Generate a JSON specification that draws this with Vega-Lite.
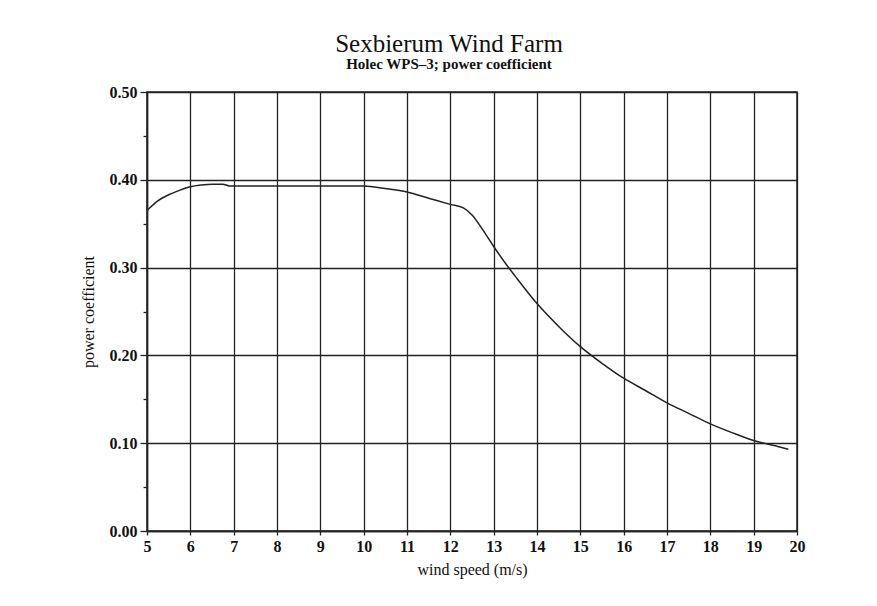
{
  "$schema": "https://vega.github.io/schema/vega-lite/v6.json",
  "width": 650,
  "height": 439,
  "autosize": {"type": "none"},
  "padding": {"left": 147, "top": 92, "right": 80, "bottom": 75},
  "background": "white",
  "title": {
    "text": "Sexbierum Wind Farm",
    "subtitle": "Holec WPS–3; power coefficient",
    "anchor": "middle",
    "frame": "group",
    "dx": -23,
    "offset": 12,
    "font": "Liberation Serif",
    "fontSize": 25,
    "fontWeight": "normal",
    "color": "#111",
    "subtitleFont": "Liberation Serif",
    "subtitleFontSize": 15,
    "subtitleFontWeight": "bold",
    "subtitleColor": "#111",
    "subtitlePadding": 0
  },
  "data": {
    "values": [
      {"speed": 5.0, "cp": 0.365},
      {"speed": 5.25, "cp": 0.376},
      {"speed": 5.5, "cp": 0.383},
      {"speed": 5.75, "cp": 0.388},
      {"speed": 6.0, "cp": 0.392},
      {"speed": 6.25, "cp": 0.394},
      {"speed": 6.5, "cp": 0.395},
      {"speed": 6.75, "cp": 0.395},
      {"speed": 6.9, "cp": 0.393},
      {"speed": 7.0, "cp": 0.393},
      {"speed": 8.0, "cp": 0.393},
      {"speed": 9.0, "cp": 0.393},
      {"speed": 10.0, "cp": 0.393},
      {"speed": 10.5, "cp": 0.390},
      {"speed": 11.0, "cp": 0.386},
      {"speed": 11.5, "cp": 0.379},
      {"speed": 12.0, "cp": 0.372},
      {"speed": 12.3, "cp": 0.368},
      {"speed": 12.5, "cp": 0.360},
      {"speed": 12.75, "cp": 0.343},
      {"speed": 13.0, "cp": 0.324},
      {"speed": 13.3, "cp": 0.303},
      {"speed": 13.5, "cp": 0.290},
      {"speed": 14.0, "cp": 0.259},
      {"speed": 14.5, "cp": 0.233},
      {"speed": 15.0, "cp": 0.210},
      {"speed": 15.5, "cp": 0.191},
      {"speed": 16.0, "cp": 0.174},
      {"speed": 16.5, "cp": 0.160},
      {"speed": 17.0, "cp": 0.146},
      {"speed": 17.5, "cp": 0.134},
      {"speed": 18.0, "cp": 0.122},
      {"speed": 18.5, "cp": 0.112},
      {"speed": 19.0, "cp": 0.103},
      {"speed": 19.5, "cp": 0.097},
      {"speed": 19.8, "cp": 0.093}
    ]
  },
  "mark": {"type": "line", "color": "#222", "strokeWidth": 1.5, "interpolate": "monotone"},
  "encoding": {
    "x": {
      "field": "speed",
      "type": "quantitative",
      "scale": {"domain": [5, 20], "nice": false, "zero": false},
      "axis": {
        "title": "wind speed (m/s)",
        "values": [5, 6, 7, 8, 9, 10, 11, 12, 13, 14, 15, 16, 17, 18, 19, 20],
        "format": "d",
        "labelFlush": false,
        "tickSize": 4,
        "labelPadding": 3,
        "titlePadding": 7
      }
    },
    "y": {
      "field": "cp",
      "type": "quantitative",
      "scale": {"domain": [0, 0.5], "nice": false},
      "axis": {
        "title": "power coefficient",
        "values": [0, 0.05, 0.1, 0.15, 0.2, 0.25, 0.3, 0.35, 0.4, 0.45, 0.5],
        "labelExpr": "round(datum.value * 100) % 10 == 0 ? format(datum.value, '.2f') : ''",
        "labelFlush": false,
        "tickSize": {"condition": {"test": "round(datum.value * 100) % 10 == 0", "value": 7}, "value": 4},
        "gridOpacity": {"condition": {"test": "round(datum.value * 100) % 10 == 0", "value": 1}, "value": 0},
        "labelPadding": 3,
        "titlePadding": 13
      }
    }
  },
  "config": {
    "view": {"stroke": "#222", "strokeWidth": 1.5},
    "axis": {
      "domainColor": "#222",
      "domainWidth": 1.5,
      "grid": true,
      "gridColor": "#222",
      "gridWidth": 1.3,
      "tickColor": "#222",
      "tickWidth": 1.3,
      "labelFont": "Liberation Serif",
      "labelFontSize": 16,
      "labelFontWeight": "bold",
      "labelColor": "#111",
      "titleFont": "Liberation Serif",
      "titleFontSize": 16,
      "titleFontWeight": "normal",
      "titleColor": "#111"
    }
  }
}
